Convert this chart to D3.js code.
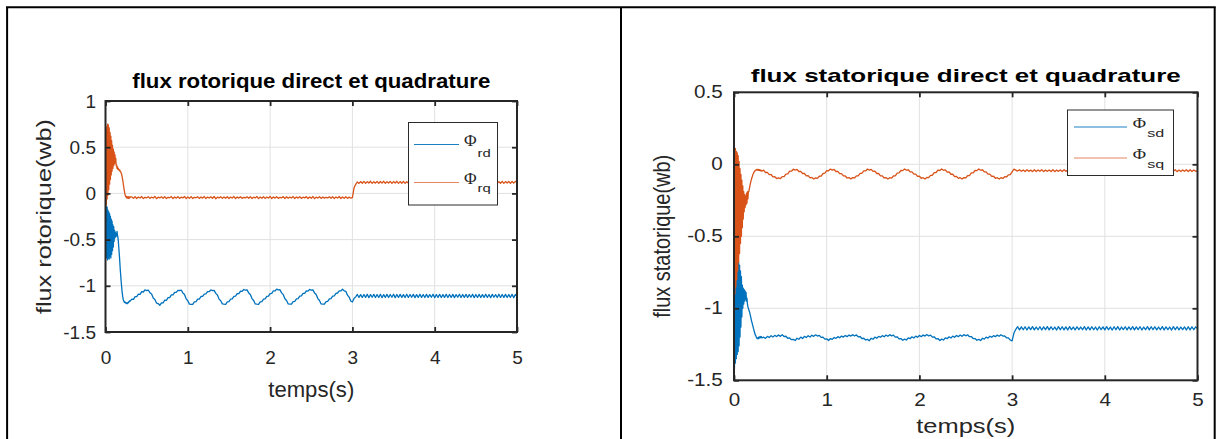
<!DOCTYPE html>
<html>
<head>
<meta charset="utf-8">
<script src="https://cdn.jsdelivr.net/npm/d3@7"></script>
<style>
  html, body { margin: 0; padding: 0; background: #fff; }
  svg { display: block; }
</style>
</head>
<body>
<svg id="fig" width="1216" height="439"></svg>
<script>
// ---- axis ticks ----
const xTicks = [0, 1, 2, 3, 4, 5];
const rotorYTicks = [-1.5, -1, -0.5, 0, 0.5, 1];
const statorYTicks = [-1.5, -1, -0.5, 0, 0.5];

// ---- sample instants (s): 5 ms during start-up, 20 ms afterwards ----
const tStart = d3.range(61).map(i => +(i * 0.005).toFixed(3));
const tRun = d3.range(235).map(i => +(0.32 + i * 0.02).toFixed(2));
const time = tStart.concat(tRun);

// ---- rotor flux, direct axis (Wb) ----
const phiRd = [
  -0.12,-0.68,-0.14,-0.70,-0.15,-0.72,-0.18,-0.70,-0.20,-0.71,
  -0.22,-0.68,-0.25,-0.70,-0.28,-0.66,-0.30,-0.62,-0.34,-0.58,
  -0.36,-0.52,-0.40,-0.48,-0.42,-0.47,-0.44,-0.46,-0.41,-0.45,
  -0.47,-0.51,-0.57,-0.63,-0.69,-0.76,-0.83,-0.89,-0.95,-1.00,
  -1.05,-1.09,-1.12,-1.145,-1.16,-1.17,-1.18,-1.175,-1.185,-1.18,
  -1.19,-1.185,-1.195,-1.185,-1.19,-1.178,-1.182,-1.17,-1.172,-1.162,
  -1.165,
  -1.144,-1.146,-1.118,-1.117,-1.091,-1.093,-1.063,-1.067,-1.043,-1.052,
  -1.046,-1.075,-1.089,-1.132,-1.148,-1.187,-1.192,-1.211,-1.186,-1.184,
  -1.156,-1.157,-1.129,-1.127,-1.099,-1.098,-1.072,-1.071,-1.049,-1.051,
  -1.046,-1.077,-1.094,-1.141,-1.162,-1.198,-1.202,-1.201,-1.174,-1.171,
  -1.144,-1.145,-1.116,-1.114,-1.089,-1.087,-1.062,-1.064,-1.044,-1.052,
  -1.049,-1.082,-1.099,-1.144,-1.162,-1.196,-1.199,-1.201,-1.174,-1.171,
  -1.144,-1.141,-1.114,-1.111,-1.086,-1.084,-1.059,-1.061,-1.040,-1.048,
  -1.044,-1.077,-1.094,-1.138,-1.159,-1.196,-1.199,-1.201,-1.174,-1.171,
  -1.144,-1.141,-1.114,-1.111,-1.084,-1.081,-1.056,-1.056,-1.036,-1.044,
  -1.042,-1.077,-1.096,-1.141,-1.159,-1.196,-1.199,-1.198,-1.172,-1.168,
  -1.142,-1.138,-1.112,-1.108,-1.082,-1.081,-1.056,-1.058,-1.039,-1.048,
  -1.044,-1.077,-1.094,-1.138,-1.159,-1.196,-1.199,-1.198,-1.172,-1.168,
  -1.142,-1.138,-1.112,-1.108,-1.082,-1.078,-1.054,-1.056,-1.036,-1.054,
  -1.059,-1.101,-1.122,-1.164,-1.175,-1.138,-1.120,-1.094,-1.126,-1.095,
  -1.127,-1.094,-1.125,-1.092,-1.128,-1.095,-1.124,-1.093,-1.127,-1.094,
  -1.126,-1.092,-1.128,-1.095,-1.125,-1.093,-1.127,-1.094,-1.124,-1.092,
  -1.128,-1.094,-1.126,-1.093,-1.125,-1.095,-1.127,-1.092,-1.126,-1.094,
  -1.124,-1.093,-1.128,-1.095,-1.126,-1.092,-1.125,-1.094,-1.127,-1.093,
  -1.126,-1.095,-1.124,-1.092,-1.128,-1.094,-1.125,-1.093,-1.127,-1.095,
  -1.125,-1.092,-1.127,-1.094,-1.126,-1.093,-1.128,-1.095,-1.124,-1.092,
  -1.127,-1.094,-1.125,-1.093,-1.126,-1.095,-1.124,-1.092,-1.128,-1.094,
  -1.126,-1.093,-1.127,-1.095,-1.125,-1.092,-1.126,-1.094,-1.128,-1.093,
  -1.124,-1.095,-1.127,-1.092,-1.126,-1.094,-1.125,-1.093,-1.127,-1.095,
  -1.126,-1.092,-1.128,-1.094,-1.112
];

// ---- rotor flux, quadrature axis (Wb) ----
const phiRq = [
  -0.15,0.68,-0.12,0.72,-0.06,0.75,-0.02,0.74,0.04,0.71,
  0.10,0.66,0.15,0.62,0.20,0.57,0.24,0.52,0.27,0.48,
  0.30,0.45,0.32,0.42,0.33,0.38,0.30,0.31,0.27,0.29,
  0.26,0.27,0.255,0.26,0.245,0.25,0.235,0.235,0.22,0.21,
  0.19,0.165,0.14,0.11,0.08,0.05,0.025,0.00,-0.02,-0.035,
  -0.03,-0.048,-0.035,-0.052,-0.038,-0.05,-0.036,-0.054,-0.04,-0.05,
  -0.037,
  -0.038,-0.052,-0.036,-0.055,-0.040,-0.050,-0.034,-0.056,-0.042,-0.048,
  -0.036,-0.054,-0.040,-0.050,-0.033,-0.057,-0.041,-0.049,-0.037,-0.053,
  -0.035,-0.055,-0.042,-0.047,-0.034,-0.056,-0.039,-0.051,-0.036,-0.054,
  -0.041,-0.049,-0.033,-0.057,-0.038,-0.052,-0.035,-0.055,-0.042,-0.047,
  -0.036,-0.054,-0.039,-0.051,-0.034,-0.056,-0.040,-0.050,-0.037,-0.053,
  -0.033,-0.058,-0.041,-0.049,-0.036,-0.054,-0.038,-0.052,-0.035,-0.055,
  -0.040,-0.050,-0.034,-0.056,-0.039,-0.051,-0.036,-0.054,-0.042,-0.048,
  -0.037,-0.053,-0.035,-0.055,-0.041,-0.049,-0.034,-0.057,-0.038,-0.052,
  -0.036,-0.054,-0.040,-0.050,-0.033,-0.056,-0.039,-0.051,-0.036,-0.054,
  -0.042,-0.048,-0.035,-0.055,-0.037,-0.053,-0.040,-0.050,-0.034,-0.056,
  -0.039,-0.051,-0.036,-0.054,-0.041,-0.049,-0.035,-0.055,-0.038,-0.052,
  -0.034,-0.057,-0.040,-0.050,-0.036,-0.054,-0.039,-0.051,-0.042,-0.048,
  -0.037,-0.053,-0.035,-0.056,-0.040,-0.050,-0.034,-0.055,-0.038,-0.052,
  -0.036,-0.054,-0.040,-0.052,-0.045,0.060,0.098,0.125,0.108,0.128,
  0.110,0.130,0.108,0.128,0.112,0.131,0.109,0.127,0.111,0.130,
  0.108,0.129,0.111,0.131,0.109,0.127,0.112,0.130,0.108,0.128,
  0.111,0.131,0.109,0.128,0.110,0.130,0.108,0.127,0.112,0.131,
  0.109,0.128,0.111,0.130,0.108,0.131,0.110,0.127,0.109,0.129,
  0.112,0.130,0.108,0.128,0.111,0.131,0.109,0.127,0.110,0.130,
  0.108,0.129,0.112,0.131,0.109,0.128,0.111,0.130,0.108,0.127,
  0.110,0.131,0.109,0.128,0.112,0.130,0.108,0.129,0.111,0.131,
  0.109,0.127,0.110,0.130,0.108,0.128,0.112,0.131,0.109,0.129,
  0.111,0.130,0.108,0.127,0.110,0.131,0.109,0.128,0.112,0.130,
  0.108,0.129,0.111,0.130,0.118
];

// ---- stator flux, direct axis (Wb) ----
const phiSd = [
  -0.95,-1.42,-0.80,-1.38,-0.76,-1.35,-0.72,-1.32,-0.69,-1.30,
  -0.68,-1.26,-0.70,-1.20,-0.74,-1.13,-0.78,-1.06,-0.84,-1.00,
  -0.86,-0.97,-0.87,-0.95,-0.88,-0.94,-0.89,-0.95,-0.93,-0.97,
  -0.99,-1.00,-1.01,-1.02,-1.03,-1.045,-1.06,-1.075,-1.09,-1.10,
  -1.115,-1.125,-1.14,-1.15,-1.165,-1.175,-1.185,-1.19,-1.20,-1.205,
  -1.21,-1.205,-1.212,-1.20,-1.208,-1.198,-1.205,-1.196,-1.204,-1.197,
  -1.205,
  -1.201,-1.209,-1.195,-1.203,-1.190,-1.199,-1.188,-1.196,-1.185,-1.195,
  -1.183,-1.196,-1.194,-1.208,-1.206,-1.218,-1.216,-1.224,-1.208,-1.215,
  -1.200,-1.210,-1.195,-1.203,-1.190,-1.199,-1.187,-1.195,-1.184,-1.193,
  -1.188,-1.202,-1.200,-1.214,-1.212,-1.224,-1.210,-1.216,-1.203,-1.209,
  -1.197,-1.205,-1.193,-1.200,-1.189,-1.197,-1.186,-1.193,-1.183,-1.192,
  -1.185,-1.198,-1.196,-1.210,-1.208,-1.220,-1.216,-1.225,-1.208,-1.215,
  -1.200,-1.208,-1.195,-1.201,-1.190,-1.198,-1.186,-1.194,-1.183,-1.192,
  -1.186,-1.200,-1.198,-1.212,-1.210,-1.222,-1.214,-1.220,-1.205,-1.211,
  -1.198,-1.206,-1.193,-1.201,-1.189,-1.197,-1.185,-1.193,-1.182,-1.192,
  -1.186,-1.200,-1.198,-1.212,-1.210,-1.224,-1.214,-1.220,-1.205,-1.211,
  -1.198,-1.206,-1.193,-1.201,-1.189,-1.197,-1.186,-1.194,-1.183,-1.191,
  -1.184,-1.197,-1.196,-1.210,-1.210,-1.222,-1.216,-1.224,-1.208,-1.214,
  -1.200,-1.207,-1.194,-1.201,-1.190,-1.197,-1.186,-1.194,-1.184,-1.193,
  -1.192,-1.205,-1.205,-1.220,-1.226,-1.172,-1.146,-1.128,-1.150,-1.129,
  -1.149,-1.128,-1.151,-1.129,-1.148,-1.127,-1.150,-1.130,-1.149,-1.128,
  -1.151,-1.129,-1.148,-1.127,-1.150,-1.128,-1.149,-1.130,-1.151,-1.127,
  -1.149,-1.128,-1.150,-1.129,-1.151,-1.127,-1.148,-1.130,-1.150,-1.128,
  -1.148,-1.130,-1.149,-1.127,-1.151,-1.129,-1.150,-1.128,-1.149,-1.130,
  -1.151,-1.128,-1.148,-1.129,-1.150,-1.127,-1.149,-1.130,-1.151,-1.128,
  -1.149,-1.127,-1.151,-1.130,-1.148,-1.128,-1.150,-1.129,-1.149,-1.127,
  -1.150,-1.129,-1.148,-1.128,-1.151,-1.130,-1.149,-1.127,-1.150,-1.128,
  -1.148,-1.128,-1.150,-1.130,-1.149,-1.127,-1.151,-1.129,-1.148,-1.130,
  -1.151,-1.127,-1.149,-1.128,-1.150,-1.130,-1.148,-1.129,-1.151,-1.128,
  -1.150,-1.128,-1.149,-1.129,-1.140
];

// ---- stator flux, quadrature axis (Wb) ----
const phiSq = [
  -0.95,0.10,-0.90,0.11,-0.85,0.09,-0.80,0.08,-0.74,0.06,
  -0.68,0.02,-0.62,-0.03,-0.55,-0.07,-0.50,-0.11,-0.44,-0.15,
  -0.38,-0.19,-0.33,-0.21,-0.30,-0.22,-0.28,-0.20,-0.27,-0.19,
  -0.24,-0.19,-0.19,-0.17,-0.155,-0.14,-0.125,-0.11,-0.10,-0.09,
  -0.08,-0.07,-0.062,-0.056,-0.05,-0.046,-0.043,-0.04,-0.041,-0.036,
  -0.040,-0.035,-0.041,-0.036,-0.042,-0.037,-0.044,-0.040,-0.046,-0.042,
  -0.047,
  -0.041,-0.057,-0.056,-0.072,-0.071,-0.087,-0.086,-0.099,-0.094,-0.100,
  -0.086,-0.086,-0.068,-0.066,-0.048,-0.048,-0.034,-0.040,-0.036,-0.050,
  -0.049,-0.064,-0.064,-0.080,-0.079,-0.094,-0.091,-0.102,-0.094,-0.098,
  -0.083,-0.082,-0.064,-0.062,-0.044,-0.045,-0.033,-0.040,-0.036,-0.050,
  -0.049,-0.065,-0.065,-0.081,-0.081,-0.095,-0.092,-0.102,-0.092,-0.095,
  -0.080,-0.080,-0.063,-0.062,-0.045,-0.046,-0.033,-0.040,-0.035,-0.049,
  -0.048,-0.064,-0.064,-0.080,-0.080,-0.095,-0.092,-0.102,-0.093,-0.096,
  -0.081,-0.080,-0.062,-0.060,-0.043,-0.044,-0.032,-0.041,-0.038,-0.053,
  -0.052,-0.068,-0.068,-0.084,-0.083,-0.097,-0.093,-0.102,-0.091,-0.093,
  -0.077,-0.076,-0.058,-0.057,-0.041,-0.043,-0.032,-0.042,-0.039,-0.054,
  -0.053,-0.069,-0.069,-0.085,-0.084,-0.098,-0.093,-0.102,-0.092,-0.095,
  -0.079,-0.078,-0.060,-0.059,-0.043,-0.044,-0.032,-0.041,-0.038,-0.053,
  -0.052,-0.068,-0.068,-0.084,-0.083,-0.097,-0.093,-0.102,-0.093,-0.098,
  -0.086,-0.088,-0.073,-0.072,-0.052,-0.034,-0.040,-0.047,-0.038,-0.049,
  -0.039,-0.050,-0.038,-0.049,-0.040,-0.051,-0.038,-0.050,-0.039,-0.049,
  -0.038,-0.051,-0.040,-0.049,-0.039,-0.050,-0.038,-0.051,-0.040,-0.049,
  -0.039,-0.050,-0.038,-0.049,-0.040,-0.051,-0.039,-0.050,-0.038,-0.049,
  -0.040,-0.051,-0.039,-0.050,-0.038,-0.049,-0.040,-0.050,-0.039,-0.051,
  -0.038,-0.049,-0.040,-0.051,-0.039,-0.050,-0.038,-0.049,-0.040,-0.050,
  -0.039,-0.051,-0.038,-0.050,-0.040,-0.049,-0.039,-0.051,-0.038,-0.050,
  -0.040,-0.049,-0.039,-0.050,-0.038,-0.051,-0.040,-0.049,-0.039,-0.050,
  -0.038,-0.050,-0.040,-0.051,-0.039,-0.049,-0.038,-0.050,-0.040,-0.051,
  -0.039,-0.049,-0.038,-0.051,-0.040,-0.050,-0.039,-0.049,-0.038,-0.050,
  -0.038,-0.050,-0.039,-0.049,-0.044
];

const BLUE = "#0072BD";
const ORANGE = "#D95319";
const SANS = "'Liberation Sans', Arial, Helvetica, sans-serif";
const SERIF = "'Liberation Serif', 'Times New Roman', serif";
const INK = "#262626";

const svg = d3.select("#fig");

// ---- figure frame ----
const frame = svg.append("g").attr("stroke", "#000").attr("stroke-width", 2).attr("fill", "none");
frame.append("path").attr("d", "M6,7.3 H1215.7");
frame.append("path").attr("d", "M7.1,7.3 V439");
frame.append("path").attr("d", "M621,7.3 V439");
frame.append("path").attr("d", "M1214.7,7.3 V439");

const panels = [
  {
    id: "rotor",
    left: 105.5, right: 517, top: 101, bottom: 332,
    yDomain: [-1.5, 1], yTicks: rotorYTicks,
    tickFont: 19, tickStretch: 1, xPad: 18.5, yPad: 9.5,
    title: "flux rotorique direct et quadrature", titleSize: 20.5, titleLen: 358, titleY: 87.5,
    xlabel: "temps(s)", xlabelSize: 22, xlabelLen: 86, xlabelY: 396.5,
    ylabel: "flux rotorique(wb)", ylabelSize: 21, ylabelLen: 195, ylabelX: 51, ylabelStretch: 1,
    series: [
      { values: phiRd, color: BLUE, sub: "rd" },
      { values: phiRq, color: ORANGE, sub: "rq" }
    ],
    legend: { x: 408.5, y: 122.5, w: 89, h: 82.5, lx0: 414, lx1: 459, ly: [144.5, 182.5],
              phiX: 464, phiY: [145.6, 184], phiSize: 16.5, phiLen: 12.6,
              subX: 477.5, subY: [156.6, 191.8], subSize: 11.5, subLen: 13.2 }
  },
  {
    id: "stator",
    left: 734, right: 1197.5, top: 92.3, bottom: 380.3,
    yDomain: [-1.5, 0.5], yTicks: statorYTicks,
    tickFont: 17.5, tickStretch: 1.18, xPad: 13, yPad: 11.3,
    title: "flux statorique direct et quadrature", titleSize: 19, titleLen: 430, titleY: 82,
    xlabel: "temps(s)", xlabelSize: 19.5, xlabelLen: 99, xlabelY: 432.8,
    ylabel: "flux statorique(wb)", ylabelSize: 20, ylabelLen: 163, ylabelX: 670, ylabelStretch: 1.18,
    series: [
      { values: phiSd, color: BLUE, sub: "sd" },
      { values: phiSq, color: ORANGE, sub: "sq" }
    ],
    legend: { x: 1067.5, y: 110, w: 106, h: 65.5, lx0: 1074, lx1: 1127, ly: [127, 158],
              phiX: 1132.7, phiY: [128.3, 159.3], phiSize: 15, phiLen: 13.3,
              subX: 1147.3, subY: [137.3, 168.3], subSize: 11.5, subLen: 17 }
  }
];

function stretchText(sel, k) {
  if (k === 1) return;
  sel.each(function () {
    const w = this.getComputedTextLength();
    d3.select(this).attr("textLength", w * k).attr("lengthAdjust", "spacingAndGlyphs");
  });
}

panels.forEach(p => {
  const x = d3.scaleLinear().domain([0, 5]).range([p.left, p.right]);
  const y = d3.scaleLinear().domain(p.yDomain).range([p.bottom, p.top]);
  const g = svg.append("g").attr("class", "panel-" + p.id);

  // grid
  const grid = g.append("g").attr("stroke", "#e1e1e1").attr("stroke-width", 1);
  grid.selectAll("line.gx").data(xTicks.slice(1, -1)).join("line")
    .attr("x1", d => x(d)).attr("x2", d => x(d)).attr("y1", p.top).attr("y2", p.bottom);
  grid.selectAll("line.gy").data(p.yTicks.slice(1, -1)).join("line")
    .attr("y1", d => y(d)).attr("y2", d => y(d)).attr("x1", p.left).attr("x2", p.right);

  // data
  const clipId = "clip-" + p.id;
  g.append("clipPath").attr("id", clipId).append("rect")
    .attr("x", p.left).attr("y", p.top).attr("width", p.right - p.left).attr("height", p.bottom - p.top);
  const line = d3.line().x((d, i) => x(time[i])).y(d => y(d));
  const plot = g.append("g").attr("clip-path", `url(#${clipId})`);
  p.series.forEach(s => {
    plot.append("path").attr("d", line(s.values)).attr("fill", "none")
      .attr("stroke", s.color).attr("stroke-width", 1.3).attr("stroke-linejoin", "round");
  });

  // axes (ticks point inward, box on all four sides)
  const styleAxis = sel => {
    sel.select(".domain").remove();
    sel.selectAll(".tick line").attr("stroke", INK).attr("stroke-width", 1.8);
    sel.selectAll(".tick text").attr("fill", INK);
    sel.attr("font-family", SANS).attr("font-size", p.tickFont);
  };
  const fmt = d => String(d);
  const gb = g.append("g").attr("transform", `translate(0,${p.bottom})`)
    .call(d3.axisBottom(x).tickValues(xTicks).tickSize(-5).tickPadding(p.xPad).tickFormat(fmt)).call(styleAxis);
  g.append("g").attr("transform", `translate(0,${p.top})`)
    .call(d3.axisTop(x).tickValues(xTicks).tickSize(-5).tickFormat("")).call(styleAxis);
  const gl = g.append("g").attr("transform", `translate(${p.left},0)`)
    .call(d3.axisLeft(y).tickValues(p.yTicks).tickSize(-5).tickPadding(p.yPad).tickFormat(fmt)).call(styleAxis);
  g.append("g").attr("transform", `translate(${p.right},0)`)
    .call(d3.axisRight(y).tickValues(p.yTicks).tickSize(-5).tickFormat("")).call(styleAxis);
  stretchText(gb.selectAll(".tick text"), p.tickStretch);
  stretchText(gl.selectAll(".tick text"), p.tickStretch);

  g.append("rect").attr("x", p.left).attr("y", p.top)
    .attr("width", p.right - p.left).attr("height", p.bottom - p.top)
    .attr("fill", "none").attr("stroke", INK).attr("stroke-width", 2);

  // title and axis labels
  const cx = (p.left + p.right) / 2;
  g.append("text").attr("x", cx).attr("y", p.titleY).attr("text-anchor", "middle")
    .attr("font-family", SANS).attr("font-weight", "bold").attr("font-size", p.titleSize)
    .attr("textLength", p.titleLen).attr("lengthAdjust", "spacingAndGlyphs").attr("fill", "#000")
    .text(p.title);
  g.append("text").attr("x", cx).attr("y", p.xlabelY).attr("text-anchor", "middle")
    .attr("font-family", SANS).attr("font-size", p.xlabelSize)
    .attr("textLength", p.xlabelLen).attr("lengthAdjust", "spacingAndGlyphs").attr("fill", INK)
    .text(p.xlabel);
  const cy = (p.top + p.bottom) / 2;
  g.append("text")
    .attr("transform", `translate(${p.ylabelX},${cy}) scale(${p.ylabelStretch},1) rotate(-90)`)
    .attr("text-anchor", "middle").attr("font-family", SANS).attr("font-size", p.ylabelSize)
    .attr("textLength", p.ylabelLen).attr("lengthAdjust", "spacingAndGlyphs").attr("fill", INK)
    .text(p.ylabel);

  // legend
  const L = p.legend;
  const lg = g.append("g");
  lg.append("rect").attr("x", L.x).attr("y", L.y).attr("width", L.w).attr("height", L.h)
    .attr("fill", "#fff").attr("stroke", "#2b2b2b").attr("stroke-width", 1);
  p.series.forEach((s, i) => {
    lg.append("line").attr("x1", L.lx0).attr("x2", L.lx1).attr("y1", L.ly[i]).attr("y2", L.ly[i])
      .attr("stroke", s.color).attr("stroke-width", 1.2).attr("stroke-opacity", i === 1 ? 0.7 : 0.9);
    lg.append("text").attr("x", L.phiX).attr("y", L.phiY[i]).attr("font-family", SERIF)
      .attr("font-size", L.phiSize).attr("textLength", L.phiLen).attr("lengthAdjust", "spacingAndGlyphs")
      .attr("fill", INK).text("\u03A6");
    lg.append("text").attr("x", L.subX).attr("y", L.subY[i]).attr("font-family", SANS)
      .attr("font-size", L.subSize).attr("textLength", L.subLen).attr("lengthAdjust", "spacingAndGlyphs")
      .attr("fill", INK).text(s.sub);
  });
});
</script>
</body>
</html>
